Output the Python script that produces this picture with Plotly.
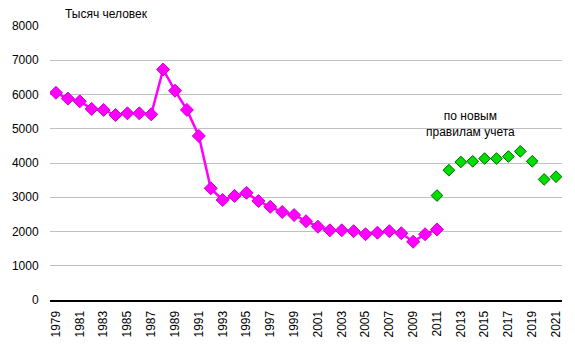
import plotly.graph_objects as go

years_old = list(range(1979, 2012))
values_old = [6050, 5880, 5800, 5580, 5550, 5400, 5450, 5450, 5420, 6730,
              6110, 5550, 4790, 3260, 2920, 3040, 3130, 2890, 2720, 2570,
              2480, 2300, 2140, 2035, 2035, 2010, 1920, 1965, 2010, 1950,
              1700, 1920, 2060]
years_new = list(range(2011, 2022))
values_new = [3050, 3790, 4030, 4050, 4130, 4130, 4190, 4340, 4050, 3520, 3600]
tick_years = list(range(1979, 2022, 2))
y_ticks = list(range(0, 8001, 1000))

font = "Liberation Sans, Arial, sans-serif"

fig = go.Figure()
fig.add_trace(go.Scatter(
    x=years_old, y=values_old, mode="lines+markers",
    line=dict(color="#FF00FF", width=2.5),
    marker=dict(symbol="diamond", size=10, color="#FF00FF",
                line=dict(color="#CC00CC", width=1)),
    showlegend=False))
fig.add_trace(go.Scatter(
    x=years_new, y=values_new, mode="markers",
    marker=dict(symbol="diamond", size=9, color="#00DD00",
                line=dict(color="#006600", width=1)),
    showlegend=False))

fig.update_layout(
    width=575, height=354,
    margin=dict(l=50, r=13, t=26, b=54),
    paper_bgcolor="white", plot_bgcolor="white",
    font=dict(family=font, size=12, color="black"),
    xaxis=dict(range=[1978.5, 2021.5], tickmode="array", tickvals=tick_years,
               ticktext=[str(y) for y in tick_years], tickangle=-90,
               showgrid=False, zeroline=False, showline=True,
               linecolor="black", linewidth=2, ticks="outside",
               ticklen=4, tickcolor="white",
               tickfont=dict(size=12, family=font)),
    yaxis=dict(range=[0, 8000], tickvals=y_ticks, showgrid=True,
               gridcolor="#C0C0C0", gridwidth=1, zeroline=False,
               showline=False, ticks="outside", ticklen=8, tickcolor="white",
               tickfont=dict(size=12, family=font)),
    annotations=[
        dict(text="Тысяч человек", xref="paper", yref="paper",
             x=0.025, y=1.0, xanchor="left", yanchor="bottom",
             yshift=3, showarrow=False, font=dict(size=12, family=font)),
        dict(text="по новым<br>правилам учета", xref="x", yref="y",
             x=2013.8, y=5150, xanchor="center", yanchor="middle",
             showarrow=False, font=dict(size=12, family=font)),
    ],
)
fig.write_html("out.html")
